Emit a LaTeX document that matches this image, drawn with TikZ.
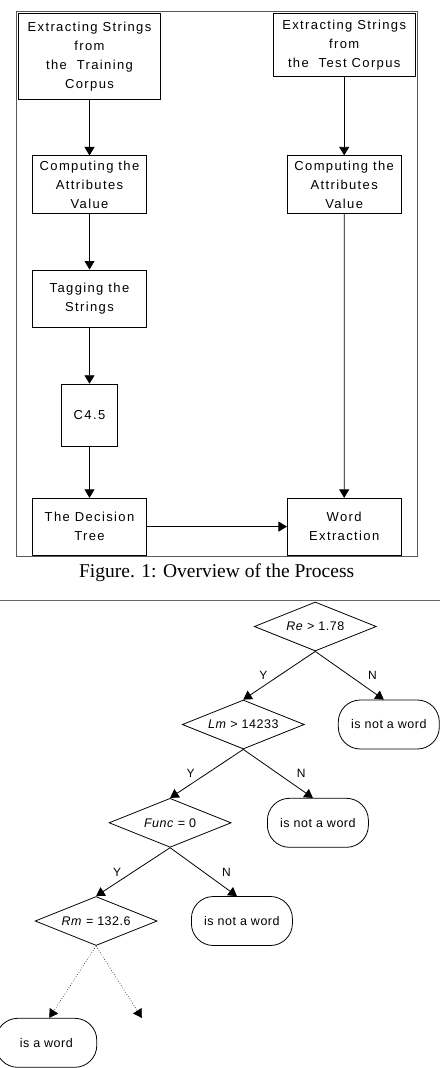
\documentclass[tikz,border=0pt]{standalone}
\usepackage{fontspec}
\setmainfont{Liberation Serif}
\newfontfamily\boxfont[LetterSpace=10.5]{Liberation Sans}
\newfontfamily\treefont[LetterSpace=4]{Liberation Sans}
\usetikzlibrary{positioning,fit,backgrounds,arrows.meta,shapes.geometric}

\begin{document}
\begin{tikzpicture}[
  x=1pt, y=1pt,
  flow/.style={draw, line width=0.8pt, align=center, inner sep=2pt, font=\boxfont\fontsize{13}{19}\selectfont},
  dec/.style={draw, diamond, aspect=2.5, line width=0.8pt, inner sep=0pt, minimum width=122pt, minimum height=49pt, font=\treefont\fontsize{12.5}{14}\selectfont},
  leaf/.style={draw, rounded corners=22pt, line width=0.8pt, minimum width=101pt, minimum height=49pt, inner sep=0pt, font=\treefont\fontsize{12.5}{14}\selectfont},
  yn/.style={inner sep=0pt, font=\treefont\fontsize{12}{14}\selectfont},
  arr/.style={-{Triangle[length=8.5pt,width=10pt]}, line width=0.8pt},
  node distance=56pt,
]
\useasboundingbox (0,0) rectangle (440,-1068);
\node[flow, minimum width=142.4pt, minimum height=85.7pt] (train) at (89.5,-56.2) {Extracting Strings\\from\\the~~Training\\Corpus};
\node[flow, minimum width=141.7pt, minimum height=63pt] (test) at (344.2,-44.8) {Extracting Strings\\from\\the~~Test Corpus};
\node[flow, minimum width=113.7pt, minimum height=57.3pt, below=of train] (comp1) {Computing the\\Attributes\\Value};
\node[flow, minimum width=113.7pt, minimum height=57.3pt, below=78.7pt of test] (comp2) {Computing the\\Attributes\\Value};
\node[flow, minimum width=113.7pt, minimum height=57pt, below=of comp1] (tag) {Tagging the\\Strings};
\node[flow, minimum width=56.7pt, minimum height=62.3pt, below=56.4pt of tag] (c45) {C4.5};
\node[flow, minimum width=113.7pt, minimum height=56.7pt, below=51pt of c45] (tree) {The Decision\\Tree};
\node[flow, minimum width=113.7pt, minimum height=56.7pt, right=140.2pt of tree] (wordex) {Word\\Extraction};
\draw[arr] (train) -- (comp1);
\draw[arr] (comp1) -- (tag);
\draw[arr] (tag) -- (c45);
\draw[arr] (c45) -- (tree);
\draw[arr] (test) -- (comp2);
\draw[arr] (comp2) -- (wordex);
\draw[arr] (tree) -- (wordex);
\begin{scope}[on background layer]
\node[draw=black!65, line width=0.8pt, fit=(train)(test)(tree)(wordex), inner sep=1.5pt] (frame) {};
\end{scope}
\node[below=6pt of frame, inner sep=0pt, font=\fontsize{19.5}{22}\selectfont] (cap) {Figure. 1: Overview of the Process};
\coordinate (rulel) at (0,-600.7);
\coordinate (ruler) at (440,-600.7);
\draw[black!60, line width=1pt] (rulel) -- (ruler);

\node[dec] (re) at (315.3,-626.5) {\textit{Re} > 1.78};
\node[dec] (lm) at ([shift={(-72,-98)}]re.center) {\textit{Lm} > 14233};
\node[leaf] (nw1) at ([shift={(73.5,-98)}]re.center) {is not a word};
\node[dec] (func) at ([shift={(-73.2,-98.3)}]lm.center) {\textit{Func} = 0};
\node[leaf] (nw2) at ([shift={(74.6,-98.3)}]lm.center) {is not a word};
\node[dec] (rm) at ([shift={(-74,-98.2)}]func.center) {\textit{Rm} = 132.6};
\node[leaf] (nw3) at ([shift={(71.8,-98.2)}]func.center) {is not a word};
\node[leaf] (isw) at ([shift={(-49.8,-121.8)}]rm.center) {is a word};
\coordinate (open) at ([shift={(45.7,-72)}]rm.south);
\draw[arr] (re.south) -- (lm.north) node[yn, midway, xshift=-16pt] {Y};
\draw[arr] (re.south) -- ([xshift=-5pt]nw1.north) node[yn, midway, xshift=23pt] {N};
\draw[arr] (lm.south) -- (func.north) node[yn, midway, xshift=-16pt] {Y};
\draw[arr] (lm.south) -- ([xshift=-5pt]nw2.north) node[yn, midway, xshift=23pt] {N};
\draw[arr] (func.south) -- (rm.north) node[yn, midway, xshift=-16pt] {Y};
\draw[arr] (func.south) -- ([xshift=-5pt]nw3.north) node[yn, midway, xshift=23pt] {N};
\draw[arr, line width=0.6pt, dotted] (rm.south) -- ([xshift=3pt]isw.north);
\draw[arr, line width=0.6pt, dotted] (rm.south) -- (open);
\end{tikzpicture}
\end{document}
